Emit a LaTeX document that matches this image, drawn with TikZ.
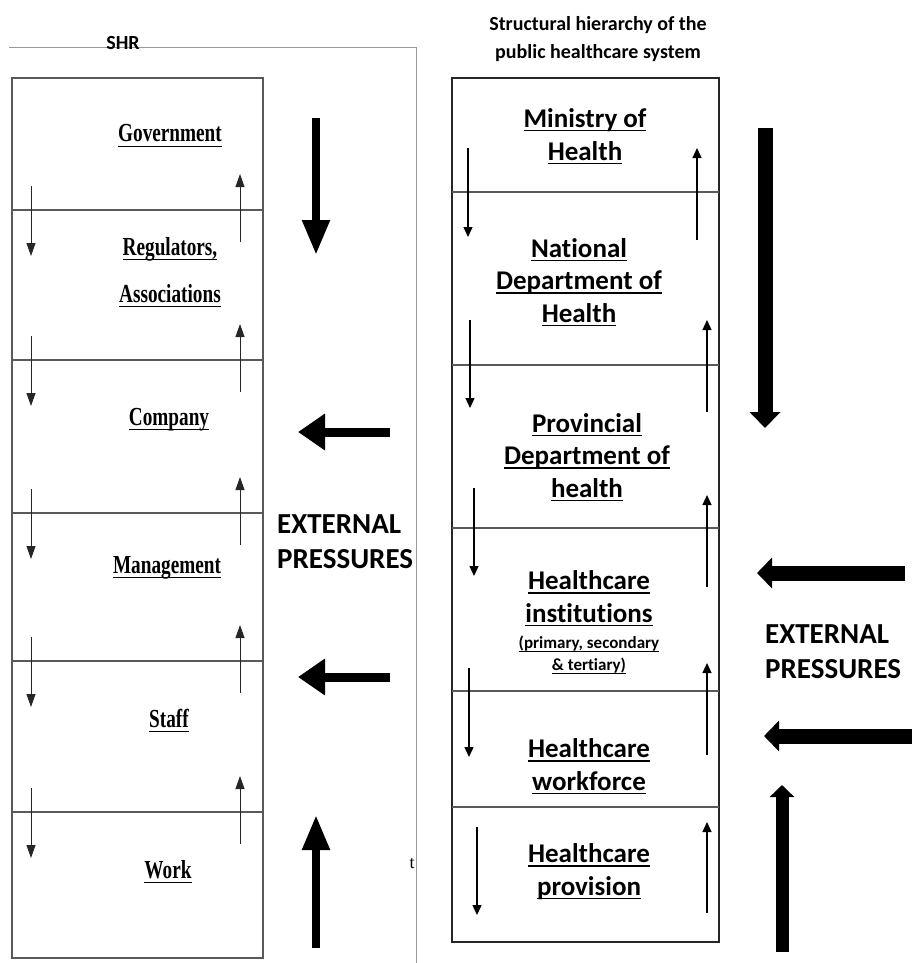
\documentclass[tikz,border=0pt]{standalone}
\usepackage{fontspec}
\setmainfont{Liberation Serif}
\newfontfamily\calfont[Ligatures=NoCommon]{Carlito}
\usetikzlibrary{arrows.meta}

\newsavebox\ulbox
% underlined line for the right-hand column
\newcommand{\ulr}[1]{\sbox\ulbox{#1}\rlap{\rule[-4pt]{\wd\ulbox}{1.5pt}}\usebox\ulbox}
% condensed, underlined serif line for the left-hand column
\newcommand{\ull}[1]{\scalebox{0.74}[1]{\sbox\ulbox{#1}\rlap{\rule[-5pt]{\wd\ulbox}{1.3pt}}\usebox\ulbox}}

\begin{document}
\begin{tikzpicture}[x=1pt,y=-1pt,
  lefttext/.style={anchor=base, align=center, inner sep=0pt,
    font=\fontsize{26}{47}\selectfont\bfseries},
  righttext/.style={anchor=base, align=center, inner sep=0pt,
    font=\calfont\bfseries\fontsize{27}{32.5}\selectfont},
  smalltext/.style={anchor=base, align=center, inner sep=0pt,
    font=\calfont\bfseries\fontsize{17}{22}\selectfont},
  headtext/.style={anchor=base, align=center, inner sep=0pt,
    font=\calfont\bfseries\fontsize{20}{28}\selectfont},
  presstext/.style={anchor=base west, align=left, inner sep=0pt,
    font=\calfont\bfseries\fontsize{29}{35}\selectfont},
  lsmall/.style={line width=1pt, draw=black!85, -{Triangle[width=9pt,length=13pt]}},
  rsmall/.style={line width=1.3pt, -{Triangle[width=9pt,length=10pt]}},
  lbigv/.style={line width=8pt, -{Triangle[width=26pt,length=35pt]}},
  lbigh/.style={line width=9pt, -{Triangle[width=35pt,length=27pt]}},
  rbigdown/.style={line width=15pt, -{Triangle[width=30pt,length=16pt]}},
  rbigh/.style={line width=15pt, -{Triangle[width=30pt,length=15pt]}},
  rbigup/.style={line width=13pt, -{Triangle[width=24pt,length=12pt]}},
  frameline/.style={draw=black!40, line width=1pt},
  lbox/.style={draw=black!65, line width=1.4pt},
  rbox/.style={draw=black!85, line width=1.5pt},
  rdiv/.style={draw=black!65, line width=1.2pt}]

\useasboundingbox (0,0) rectangle (912,963);

% ---------- left column: SHR ----------
\draw[frameline] (9,48) -- (416,48) -- (416,963);
\node[headtext] (shr) at (123,50) {SHR};

\draw[lbox] (12,78) rectangle (263,958);
\foreach \d in {210,360,513,661,812} {
  \draw[lbox, line width=1.2pt] (12,\d) -- (263,\d);
}

% multi-line nodes are placed by the baseline of their last line
\node[lefttext] (gov) at (170,142) {\ull{Government}};
\node[lefttext] (reg) at (170,302) {\ull{Regulators,}\\\ull{Associations}};
\node[lefttext] (comp) at (169,425) {\ull{Company}};
\node[lefttext] (mgmt) at (167,573) {\ull{Management}};
\node[lefttext] (staff) at (169,727) {\ull{Staff}};
\node[lefttext] (work) at (168,878) {\ull{Work}};

% flow arrows between the SHR levels
\foreach \d [count=\i] in {210,360,513,661,812} {
  \coordinate (ld\i a) at (31,{\d-24});
  \coordinate (ld\i b) at (31,{\d+46});
  \coordinate (lu\i a) at (240,{\d+32});
  \coordinate (lu\i b) at (240,{\d-36});
  \draw[lsmall] (ld\i a) -- (ld\i b);
  \draw[lsmall] (lu\i a) -- (lu\i b);
}

% external pressures on the SHR column
\coordinate (ltopa) at (316,118);  \coordinate (ltopb) at (316,255);
\coordinate (lbota) at (316,948);  \coordinate (lbotb) at (316,815);
\coordinate (lh1a) at (390,432);   \coordinate (lh1b) at (298,432);
\coordinate (lh2a) at (390,677);   \coordinate (lh2b) at (298,677);
\draw[lbigv] (ltopa) -- (ltopb);
\draw[lbigv] (lbota) -- (lbotb);
\draw[lbigh] (lh1a) -- (lh1b);
\draw[lbigh] (lh2a) -- (lh2b);
\node[presstext] (lpress) at (277,568) {EXTERNAL\\PRESSURES};
\node[anchor=base, inner sep=0pt, font=\fontsize{18}{18}\selectfont] (stray) at (412,868) {t};

% ---------- right column: public healthcare system ----------
\node[headtext] (title) at (598,59) {Structural hierarchy of the\\public healthcare system};
\draw[rbox] (452,78) rectangle (719,942);
\foreach \d in {192,365,528,691,807} {
  \draw[rdiv] (452,\d) -- (719,\d);
}

\node[righttext] (moh) at (585,160) {\ulr{Ministry of}\\\ulr{Health}};
\node[righttext] (ndoh) at (579,322) {\ulr{National}\\\ulr{Department of}\\\ulr{Health}};
\node[righttext] (pdoh) at (587,497) {\ulr{Provincial}\\\ulr{Department of}\\\ulr{health}};
\node[righttext] (inst) at (589,622) {\ulr{Healthcare}\\\ulr{institutions}};
\node[smalltext] (instsub) at (589,670) {\ulr{(primary, secondary}\\\ulr{\& tertiary)}};
\node[righttext] (wf) at (589,790) {\ulr{Healthcare}\\\ulr{workforce}};
\node[righttext] (prov) at (589,895) {\ulr{Healthcare}\\\ulr{provision}};

% flow arrows between the healthcare levels
\coordinate (rd1a) at (468,148); \coordinate (rd1b) at (468,237);
\coordinate (rd2a) at (470,320); \coordinate (rd2b) at (470,408);
\coordinate (rd3a) at (474,488); \coordinate (rd3b) at (474,576);
\coordinate (rd4a) at (469,668); \coordinate (rd4b) at (469,757);
\coordinate (rd5a) at (477,827); \coordinate (rd5b) at (477,915);
\coordinate (ru1a) at (697,240); \coordinate (ru1b) at (697,148);
\coordinate (ru2a) at (707,412); \coordinate (ru2b) at (707,320);
\coordinate (ru3a) at (707,587); \coordinate (ru3b) at (707,495);
\coordinate (ru4a) at (707,755); \coordinate (ru4b) at (707,663);
\coordinate (ru5a) at (707,913); \coordinate (ru5b) at (707,822);
\foreach \i in {1,...,5} {
  \draw[rsmall] (rd\i a) -- (rd\i b);
  \draw[rsmall] (ru\i a) -- (ru\i b);
}

% external pressures on the healthcare column
\coordinate (rtopa) at (765,128);  \coordinate (rtopb) at (765,428);
\coordinate (rh1a) at (905,573);   \coordinate (rh1b) at (757,573);
\coordinate (rh2a) at (912,736);   \coordinate (rh2b) at (764,736);
\coordinate (rbota) at (782,952);  \coordinate (rbotb) at (782,785);
\draw[rbigdown] (rtopa) -- (rtopb);
\draw[rbigh] (rh1a) -- (rh1b);
\draw[rbigh] (rh2a) -- (rh2b);
\draw[rbigup] (rbota) -- (rbotb);
\node[presstext] (rpress) at (765,678) {EXTERNAL\\PRESSURES};

\end{tikzpicture}
\end{document}
